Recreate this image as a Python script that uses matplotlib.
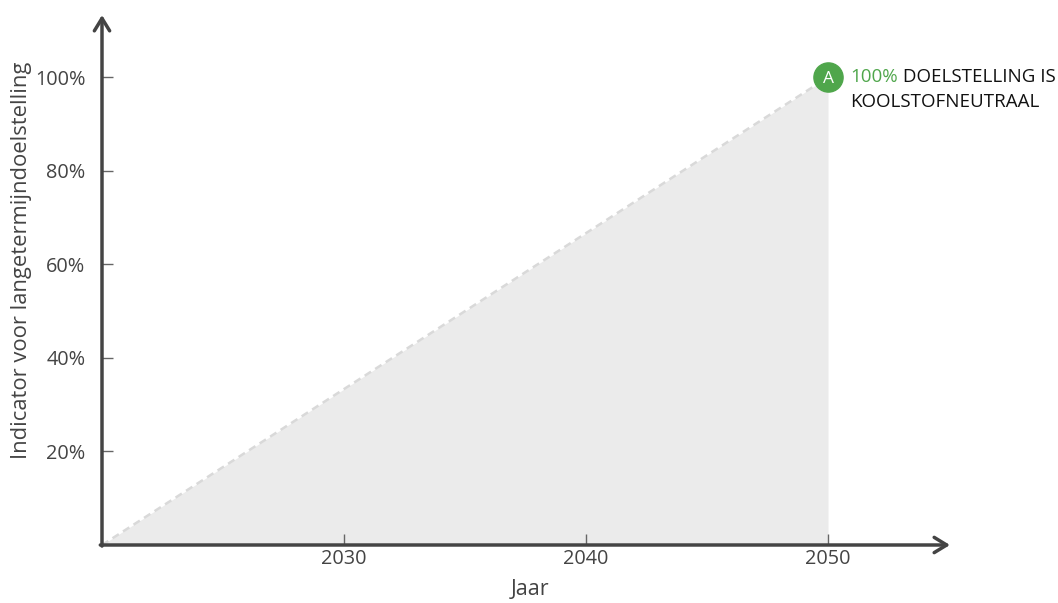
import matplotlib
matplotlib.use("Agg")
import matplotlib.pyplot as plt

years = [2020, 2050]
values = [0, 100]
x_ticks = [2030, 2040, 2050]
y_ticks = [20, 40, 60, 80, 100]
y_tick_labels = ["20%", "40%", "60%", "80%", "100%"]
marker_label = "A"
annot_pct = "100%"
annot_line1 = " DOELSTELLING IS"
annot_line2 = "KOOLSTOFNEUTRAAL"

plt.rcParams['font.family'] = ['Open Sans', 'DejaVu Sans']
axis_col = '#444444'
green = '#4fa64b'

fig = plt.figure(figsize=(10.58, 6.03), dpi=100)
W, H = 1058, 603
ax = fig.add_axes([102 / W, (H - 545) / H, (950 - 102) / W, (545 - 15) / H])
ax.set_xlim(2020, 2055.04)
ax.set_ylim(0, 113.3)

ax.fill_between(years, values, 0, color='#ebebeb', lw=0, zorder=1)
ax.plot(years, values, color='#d9d9d9', lw=1.8, ls=(0, (3, 2)), zorder=2)
ax.plot([years[-1]], [values[-1]], 'o', ms=21, color=green, zorder=4, clip_on=False)
ax.text(years[-1], values[-1], marker_label, color='white', fontsize=12.5,
        ha='center', va='center_baseline', zorder=5)

t1 = ax.annotate(annot_pct, xy=(years[-1], values[-1]), xytext=(16, 0),
                 textcoords='offset points', color=green, fontsize=13.5,
                 ha='left', va='center')
ax.annotate(annot_line1, xy=(1, 0), xycoords=t1, xytext=(0, 0),
            textcoords='offset points', color='#111111', fontsize=13.5,
            ha='left', va='bottom')
ax.annotate(annot_line2, xy=(years[-1], values[-1]), xytext=(16, -18),
            textcoords='offset points', color='#111111', fontsize=13.5,
            ha='left', va='center')

for s in ax.spines.values():
    s.set_visible(False)

arrow_kw = dict(arrowstyle='->,head_length=0.9,head_width=0.55', lw=2.5,
                color=axis_col, shrinkA=0, shrinkB=0)
ax.annotate('', xy=(0, 1), xytext=(0, -0.002), xycoords='axes fraction',
            arrowprops=arrow_kw, annotation_clip=False)
ax.annotate('', xy=(1, 0), xytext=(-0.002, 0), xycoords='axes fraction',
            arrowprops=arrow_kw, annotation_clip=False)

ax.set_xticks(x_ticks)
ax.set_xticklabels([str(x) for x in x_ticks])
ax.set_yticks(y_ticks)
ax.set_yticklabels(y_tick_labels)
ax.tick_params(direction='in', length=8, width=1, color='#666666',
               labelcolor=axis_col, labelsize=14.3)
ax.tick_params(axis='y', pad=12)
ax.tick_params(axis='x', pad=3)

ax.set_xlabel('Jaar', fontsize=15.5, color=axis_col)
ax.xaxis.set_label_coords(0.505, -0.065)
ax.set_ylabel('Indicator voor langetermijndoelstelling', fontsize=15.8,
              color=axis_col)
ax.yaxis.set_label_coords(-0.083, 0.538)

fig.savefig('out.png', dpi=100)
